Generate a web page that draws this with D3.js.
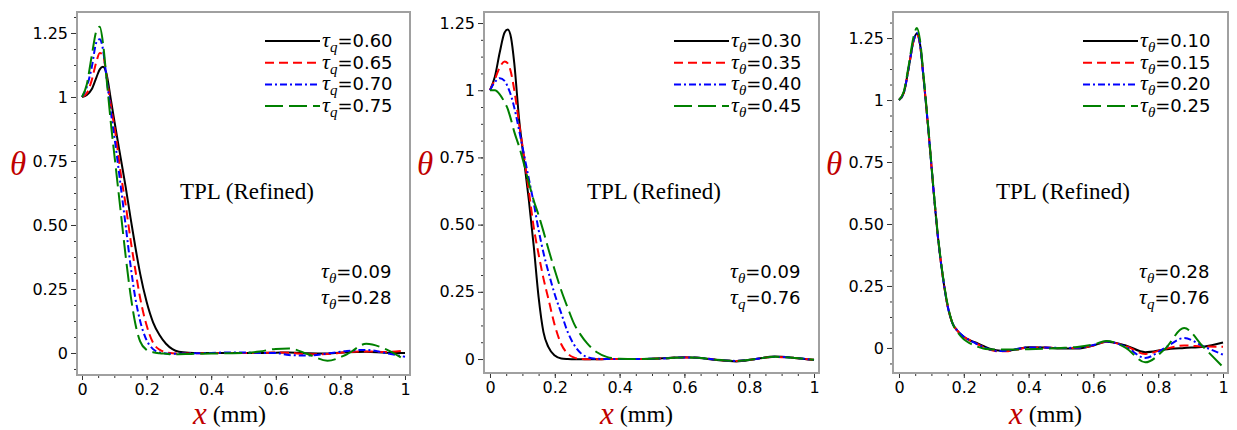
<!DOCTYPE html>
<html>
<head>
<meta charset="utf-8">
<script src="https://cdnjs.cloudflare.com/ajax/libs/d3/7.8.5/d3.min.js"></script>
<style>
  body { margin: 0; background: #fff; }
  .tick text { font-family: "DejaVu Sans", Verdana, sans-serif; font-size: 16px; fill: #000; }
  .tick line { stroke: #333; stroke-width: 1; }
</style>
</head>
<body>
<svg id="chart" width="1237" height="430"></svg>
<script>
// sample positions along x (mm), shared by all three panels
var xGrid = [0, 0.015, 0.03, 0.045, 0.055, 0.065, 0.075, 0.09, 0.105, 0.12,
  0.135, 0.15, 0.165, 0.18, 0.2, 0.22, 0.24, 0.26, 0.28, 0.3,
  0.33, 0.36, 0.4, 0.45, 0.5, 0.55, 0.6, 0.64, 0.7, 0.76,
  0.82, 0.88, 0.94, 1.0];

// panel 1 : tau_q varies
var p1Tq060 = [1.0, 1.008, 1.03, 1.078, 1.108, 1.118, 1.095, 0.985, 0.87, 0.76,
  0.65, 0.53, 0.415, 0.31, 0.2, 0.12, 0.07, 0.036, 0.015, 0.005,
  0.001, 0, 0, 0, 0, 0, 0.001, 0.002, -0.001, -0.002,
  0.003, 0.005, 0.001, 0.0];
var p1Tq065 = [1.0, 1.015, 1.065, 1.14, 1.172, 1.165, 1.09, 0.96, 0.845, 0.70,
  0.58, 0.445, 0.325, 0.215, 0.108, 0.04, 0.013, 0.003, -0.001, -0.002,
  -0.002, -0.001, 0, 0, 0, 0, 0.002, 0.001, -0.005, -0.004,
  0.003, 0.006, 0.004, 0.01];
var p1Tq070 = [1.0, 1.04, 1.115, 1.215, 1.226, 1.185, 1.085, 0.935, 0.8, 0.65,
  0.5, 0.345, 0.215, 0.125, 0.05, 0.015, 0.002, -0.002, -0.003, -0.003,
  -0.002, -0.001, 0, 0.002, 0.002, 0, 0, -0.008, -0.01, -0.002,
  0.008, 0.012, 0.0, -0.015];
var p1Tq075 = [1.0, 1.05, 1.16, 1.26, 1.274, 1.21, 1.085, 0.89, 0.72, 0.55,
  0.38, 0.23, 0.115, 0.045, 0.012, 0.003, -0.001, -0.003, -0.005, -0.005,
  -0.004, -0.003, -0.002, -0.001, 0.0, 0.006, 0.016, 0.018, -0.005, -0.03,
  -0.005, 0.036, 0.015, -0.028];

// panel 2 : tau_theta varies
var p2Tt030 = [1.0, 1.05, 1.14, 1.215, 1.226, 1.195, 1.1, 0.89, 0.74, 0.59,
  0.42, 0.23, 0.1, 0.045, 0.013, 0.002, 0, -0.001, -0.001, -0.001,
  -0.001, 0, 0, 0, 0.001, 0.004, 0.007, 0.005, -0.004, -0.009,
  0.0, 0.009, 0.004, -0.004];
var p2Tt035 = [1.0, 1.04, 1.085, 1.107, 1.1, 1.065, 1.0, 0.875, 0.755, 0.625,
  0.49, 0.39, 0.3, 0.225, 0.125, 0.055, 0.02, 0.005, 0, -0.001,
  -0.001, 0, 0, 0, 0.001, 0.003, 0.006, 0.005, -0.003, -0.007,
  0.0, 0.008, 0.004, -0.003];
var p2Tt040 = [1.0, 1.03, 1.045, 1.035, 1.012, 0.98, 0.935, 0.85, 0.76, 0.67,
  0.58, 0.48, 0.395, 0.325, 0.24, 0.17, 0.1, 0.052, 0.022, 0.007,
  0.001, 0, 0, 0, 0.001, 0.003, 0.006, 0.005, -0.003, -0.007,
  0.0, 0.008, 0.004, -0.003];
var p2Tt045 = [1.0, 1.0, 0.985, 0.955, 0.93, 0.89, 0.845, 0.79, 0.725, 0.655,
  0.59, 0.535, 0.475, 0.41, 0.33, 0.255, 0.19, 0.13, 0.09, 0.058,
  0.025, 0.008, 0.001, 0, 0.001, 0.003, 0.006, 0.005, -0.003, -0.007,
  0.0, 0.008, 0.004, -0.003];

// panel 3 : tau_theta varies (small values)
var p3Tt010 = [1.0, 1.03, 1.13, 1.24, 1.268, 1.225, 1.1, 0.89, 0.66, 0.45,
  0.29, 0.17, 0.1, 0.07, 0.045, 0.03, 0.02, 0.008, -0.003, -0.009,
  -0.012, -0.006, 0.003, 0.002, -0.002, -0.002, 0.01, 0.025, 0.01, -0.017,
  -0.006, 0.0, 0.005, 0.022];
var p3Tt015 = [1.0, 1.03, 1.13, 1.238, 1.265, 1.222, 1.1, 0.89, 0.66, 0.45,
  0.29, 0.17, 0.1, 0.07, 0.045, 0.03, 0.017, 0.004, -0.007, -0.013,
  -0.013, -0.007, 0.001, 0.002, 0.0, 0.0, 0.01, 0.025, 0.008, -0.024,
  -0.004, 0.01, 0.006, 0.005];
var p3Tt020 = [1.0, 1.03, 1.13, 1.24, 1.27, 1.225, 1.1, 0.89, 0.66, 0.45,
  0.29, 0.17, 0.1, 0.07, 0.045, 0.03, 0.016, 0.004, -0.006, -0.012,
  -0.011, -0.005, 0.002, 0.002, 0.0, 0.001, 0.012, 0.026, 0.004, -0.04,
  0.0, 0.04, 0.006, -0.027];
var p3Tt025 = [1.0, 1.035, 1.14, 1.255, 1.29, 1.24, 1.11, 0.895, 0.665, 0.455,
  0.295, 0.175, 0.1, 0.065, 0.035, 0.018, 0.006, -0.002, -0.005, -0.006,
  -0.006, -0.006, -0.005, -0.003, 0.0, 0.004, 0.014, 0.028, 0.0, -0.058,
  -0.005, 0.08, 0.003, -0.077];

// legend values and fixed parameters
var p1Legend = ["0.60", "0.65", "0.70", "0.75"];
var p2Legend = ["0.30", "0.35", "0.40", "0.45"];
var p3Legend = ["0.10", "0.15", "0.20", "0.25"];
var p1Notes = [["θ", "0.09"], ["θ", "0.28"]];
var p2Notes = [["θ", "0.09"], ["q", "0.76"]];
var p3Notes = [["θ", "0.28"], ["q", "0.76"]];

var xTicks = [0, 0.2, 0.4, 0.6, 0.8, 1];
var xTickLabels = ["0", "0.2", "0.4", "0.6", "0.8", "1"];
var yTicks = [0, 0.25, 0.5, 0.75, 1, 1.25];
var yTickLabels = ["0", "0.25", "0.50", "0.75", "1", "1.25"];

var seriesColors = ["#000000", "#ff0000", "#0000ff", "#008000"];
var seriesDash = [null, "9,5", "7,3,2,3", "18,6"];

var serif = '"Liberation Serif", "Times New Roman", serif';
var sans = '"DejaVu Sans", Verdana, sans-serif';
var labelRed = "#c00000";

var panels = [
  { left: 77, right: 410, top: 12, bottom: 375, xDom: [-0.0155, 1.0155], yDom: [-0.086, 1.332],
    series: [p1Tq060, p1Tq065, p1Tq070, p1Tq075], sym: "q", legend: p1Legend, notes: p1Notes },
  { left: 484, right: 819, top: 12, bottom: 373, xDom: [-0.0185, 1.0154], yDom: [-0.052, 1.291],
    series: [p2Tt030, p2Tt035, p2Tt040, p2Tt045], sym: "θ", legend: p2Legend, notes: p2Notes },
  { left: 893, right: 1228, top: 12, bottom: 373, xDom: [-0.0185, 1.0154], yDom: [-0.101, 1.355],
    series: [p3Tt010, p3Tt015, p3Tt020, p3Tt025], sym: "θ", legend: p3Legend, notes: p3Notes }
];

var svg = d3.select("#chart");

// writes tau_sub = value as tspans
function tauText(sel, sub, val, size) {
  sel.append("tspan").attr("font-family", serif).attr("font-style", "italic")
    .attr("font-size", size + 4).text("τ");
  sel.append("tspan").attr("font-family", serif).attr("font-style", "italic")
    .attr("font-size", size - 3).attr("dy", 5).text(sub);
  sel.append("tspan").attr("font-family", sans).attr("font-size", size)
    .attr("dy", -5).text("=" + val);
}

panels.forEach(function(p) {
  var x = d3.scaleLinear().domain(p.xDom).range([p.left, p.right]);
  var y = d3.scaleLinear().domain(p.yDom).range([p.bottom, p.top]);
  var g = svg.append("g");

  // minor ticks
  var xMinor = d3.range(0, 1.0001, 0.05);
  var yMinor = d3.range(-1, 22).map(function(i) { return i * 0.0625; })
    .filter(function(v) { return v >= p.yDom[0] && v <= p.yDom[1]; });

  g.append("g").attr("transform", "translate(0," + p.bottom + ")")
    .call(d3.axisBottom(x).tickValues(xMinor).tickSizeInner(3).tickSizeOuter(0).tickFormat(""))
    .call(function(a) { a.select(".domain").remove(); });
  g.append("g").attr("transform", "translate(" + p.left + ",0)")
    .call(d3.axisLeft(y).tickValues(yMinor).tickSizeInner(3).tickSizeOuter(0).tickFormat(""))
    .call(function(a) { a.select(".domain").remove(); });

  // major ticks
  g.append("g").attr("transform", "translate(0," + p.bottom + ")")
    .call(d3.axisBottom(x).tickValues(xTicks).tickSizeInner(5).tickSizeOuter(0).tickPadding(4)
      .tickFormat(function(d, i) { return xTickLabels[i]; }))
    .call(function(a) { a.select(".domain").remove(); });
  g.append("g").attr("transform", "translate(" + p.left + ",0)")
    .call(d3.axisLeft(y).tickValues(yTicks).tickSizeInner(6).tickSizeOuter(0).tickPadding(3)
      .tickFormat(function(d, i) { return yTickLabels[i]; }))
    .call(function(a) { a.select(".domain").remove(); });

  // curves
  var clipId = "clip" + p.left;
  svg.append("clipPath").attr("id", clipId).append("rect")
    .attr("x", p.left).attr("y", p.top).attr("width", p.right - p.left).attr("height", p.bottom - p.top);

  var line = d3.line()
    .x(function(d, i) { return x(xGrid[i]); })
    .y(function(d) { return y(d); })
    .curve(d3.curveMonotoneX);

  g.append("g").attr("clip-path", "url(#" + clipId + ")")
    .selectAll("path")
    .data(p.series)
    .enter()
    .append("path")
    .attr("d", line)
    .attr("fill", "none")
    .attr("stroke", function(d, i) { return seriesColors[i]; })
    .attr("stroke-width", 2)
    .attr("stroke-dasharray", function(d, i) { return seriesDash[i]; });

  // frame
  g.append("rect")
    .attr("x", p.left).attr("y", p.top)
    .attr("width", p.right - p.left).attr("height", p.bottom - p.top)
    .attr("fill", "none").attr("stroke", "#a0a0a0").attr("stroke-width", 2);

  // legend
  var lx = p.right - 145;
  var rows = g.selectAll(".leg").data(p.legend).enter().append("g")
    .attr("class", "leg")
    .attr("transform", function(d, i) { return "translate(" + lx + "," + (41 + i * 21.7) + ")"; });
  rows.append("line")
    .attr("x1", 0).attr("x2", 55).attr("y1", 0).attr("y2", 0)
    .attr("stroke", function(d, i) { return seriesColors[i]; })
    .attr("stroke-width", 2)
    .attr("stroke-dasharray", function(d, i) { return seriesDash[i]; });
  rows.append("text").attr("x", 57).attr("y", 6)
    .each(function(d) { tauText(d3.select(this), p.sym, d, 18); });

  // fixed parameters
  p.notes.forEach(function(n, i) {
    var t = g.append("text").attr("x", p.right - 89).attr("y", 278 + i * 26);
    tauText(t, n[0], n[1], 18);
  });

  // title in the plot
  g.append("text")
    .attr("x", p.left + 170).attr("y", 199)
    .attr("text-anchor", "middle")
    .attr("font-family", serif).attr("font-size", 23)
    .text("TPL (Refined)");

  // axis titles
  g.append("text")
    .attr("x", p.left - 67).attr("y", 175)
    .attr("font-family", serif).attr("font-style", "italic").attr("font-size", 33)
    .attr("fill", labelRed).text("θ");

  var xt = g.append("text").attr("x", p.left + 116).attr("y", 424);
  xt.append("tspan").attr("font-family", serif).attr("font-style", "italic")
    .attr("font-size", 31).attr("fill", labelRed).text("x");
  xt.append("tspan").attr("font-family", serif).attr("font-size", 24)
    .attr("dx", 6).attr("dy", -2).text("(mm)");
});
</script>
</body>
</html>
